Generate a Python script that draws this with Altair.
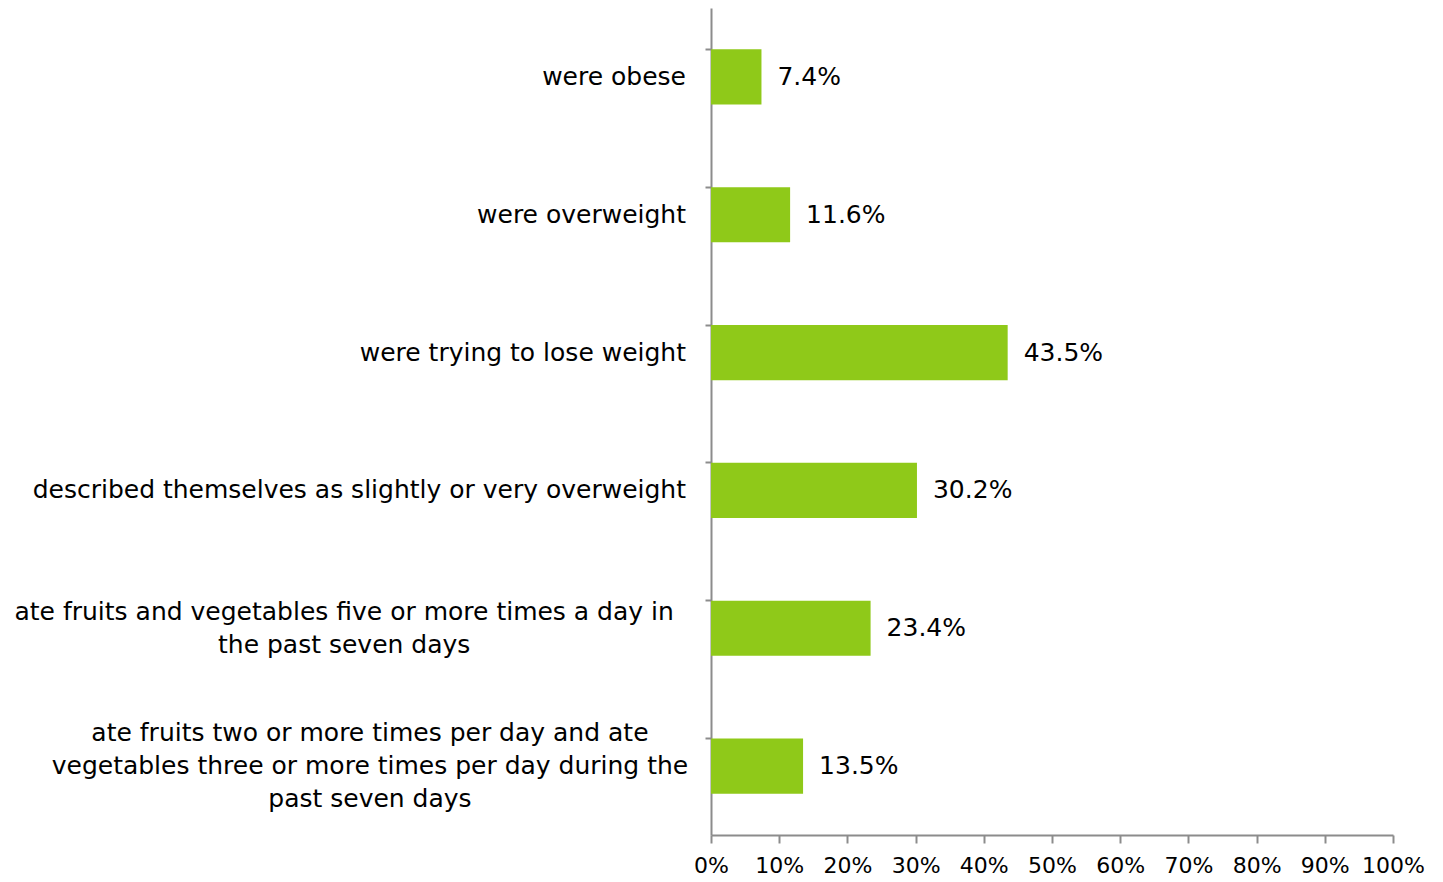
import altair as alt
import pandas as pd

categories = [
    "were obese",
    "were overweight",
    "were trying to lose weight",
    "described themselves as slightly or very overweight",
    "ate fruits and vegetables five or more times a day in\nthe past seven days",
    "ate fruits two or more times per day and ate\nvegetables three or more times per day during the\npast seven days",
]
values = [7.4, 11.6, 43.5, 30.2, 23.4, 13.5]
x_ticks = [0, 10, 20, 30, 40, 50, 60, 70, 80, 90, 100]

FONT = "DejaVu Sans"
FS = 25
CHAR_W = 12.9
GAP = 25
LH = 33

rows = []
for c, v in zip(categories, values):
    lines = c.split("\n")
    maxlen = max(len(l) for l in lines)
    rows.append({
        "cat": c,
        "lines": lines,
        "nlines": len(lines),
        "value": v,
        "cx": -GAP - maxlen * CHAR_W / 2,
        "lbl": f"{v:.1f}%",
    })
df = pd.DataFrame(rows)

yscale = alt.Scale(domain=categories, paddingInner=0.6, paddingOuter=0.3)

base = alt.Chart(df).encode(
    y=alt.Y("cat:N", sort=categories, scale=yscale,
            axis=alt.Axis(labels=False, title=None, bandPosition=0,
                          domainColor="#8c8c8c", domainWidth=2,
                          tickColor="#8c8c8c", tickWidth=2, tickSize=6))
)

bars = base.mark_bar(color="#8FC919").encode(
    x=alt.X("value:Q", scale=alt.Scale(domain=[0, 100], nice=False),
            axis=alt.Axis(values=x_ticks, labelExpr="datum.value + '%'",
                          title=None, grid=False, domainColor="#8c8c8c",
                          domainWidth=2, tickColor="#8c8c8c", tickWidth=2,
                          tickSize=8, labelFontSize=22, labelFont=FONT,
                          labelColor="#000000", labelPadding=12,
                          labelOverlap=False, labelFlush=False))
)

vals = base.mark_text(align="left", baseline="middle", dx=16, font=FONT,
                      fontSize=FS, color="#000000").encode(
    x="value:Q", text="lbl:N")

single = base.transform_filter("datum.nlines == 1").mark_text(
    align="right", baseline="middle", font=FONT, fontSize=FS,
    color="#000000").encode(x=alt.value(-GAP), text="cat:N")

multi_layers = []
for n in (2, 3):
    multi_layers.append(
        base.transform_filter(f"datum.nlines == {n}").mark_text(
            align="center", baseline="middle", font=FONT, fontSize=FS,
            color="#000000", lineHeight=LH, dy=-(n - 1) * LH / 2).encode(
            x=alt.X("cx:Q", scale=None), text="lines")
    )

chart = alt.layer(bars, vals, single, *multi_layers).properties(
    width=682, height=827,
    autosize=alt.AutoSizeParams(type="none"),
    padding={"left": 703, "top": 0, "right": 42, "bottom": 46},
).configure_view(stroke=None)

chart.save("out.html", embed_options={"renderer": "svg", "actions": False})
